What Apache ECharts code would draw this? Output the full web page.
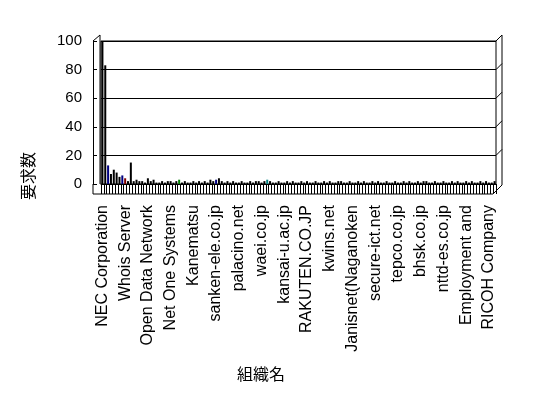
<!DOCTYPE html>
<html>
<head>
<meta charset="utf-8">
<script src="https://cdn.jsdelivr.net/npm/echarts@6/dist/echarts.min.js"></script>
<style>
  html, body { margin: 0; padding: 0; background: #fff; }
  #chart { width: 548px; height: 398px; }
</style>
</head>
<body>
<div id="chart"></div>
<script>
// labels that are printed on the axis (every 8th organisation)
var shownLabels = ['NEC Corporation', 'Whois Server', 'Open Data Network', 'Net One Systems',
  'Kanematsu', 'sanken-ele.co.jp', 'palacino.net', 'waei.co.jp', 'kansai-u.ac.jp',
  'RAKUTEN.CO.JP', 'kwins.net', 'Janisnet(Naganoken', 'secure-ict.net', 'tepco.co.jp',
  'bhsk.co.jp', 'nttd-es.co.jp', 'Employment and', 'RICOH Company'];
var labelStep = 8;

// request counts per organisation
var requestCounts = [
  100, 83, 13, 7, 10, 8, 5, 6, 4, 2, 15, 2, 3,
  2, 2, 1, 4, 2, 3, 1, 1, 2, 1, 2, 2, 1, 2, 3,
  1, 2, 1, 1, 2, 1, 2, 1, 2, 1,
  3, 2, 3, 4, 2, 1, 2,
  1, 2, 1, 1, 2, 1, 1, 2, 1, 2, 2, 1, 2,
  3, 2, 1,
  1, 2, 1, 1, 2, 1, 2, 1, 1, 2, 1, 2, 1, 1, 2,
  1, 1, 2, 1, 2, 1, 1, 2, 2, 1, 1, 2, 1, 1, 2,
  1, 2, 1, 1, 2, 1, 2, 1, 1, 2, 1, 1, 2, 1, 1,
  2, 1, 2, 1, 1, 2, 1, 2, 2, 1, 1, 2, 1, 1, 2,
  1, 1, 2, 1, 2, 1, 1, 2, 1, 2, 1, 1, 2, 1, 2, 1, 1, 2
];

var yTicks = [0, 20, 40, 60, 80, 100];

var categories = requestCounts.map(function (v, i) {
  return i % labelStep === 0 ? (shownLabels[i / labelStep] || '') : '';
});

// a few bars drawn in other colours in the original
var accentBars = { 2: '#000080', 7: '#000080', 8: '#800000', 27: '#008000', 40: '#000080', 58: '#008080' };

var font = "'Liberation Sans', 'Noto Sans CJK JP', sans-serif";
var gridLeft = 101, gridRight = 52, gridTop = 41, gridBottom = 214;

var myChart = echarts.init(document.getElementById('chart'));
var option = {
  animation: false,
  backgroundColor: '#fff',
  grid: {
    left: gridLeft, right: gridRight, top: gridTop, bottom: gridBottom,
    show: true, borderColor: '#000', borderWidth: 1, backgroundColor: 'transparent'
  },
  xAxis: {
    type: 'category',
    data: categories,
    axisLine: { lineStyle: { color: '#000', width: 1 } },
    axisTick: { show: true, interval: 0, length: 10, lineStyle: { color: '#000' } },
    axisLabel: {
      interval: labelStep - 1, rotate: 90, margin: 21,
      color: '#000', fontSize: 16, fontFamily: font
    },
    splitLine: { show: false }
  },
  yAxis: {
    type: 'value',
    min: yTicks[0], max: yTicks[yTicks.length - 1], interval: 20,
    offset: 8,
    axisLine: { show: true, lineStyle: { color: '#000' } },
    axisTick: { show: true, inside: true, length: 4, lineStyle: { color: '#000' } },
    axisLabel: { margin: 11, color: '#000', fontSize: 15, fontFamily: font },
    splitLine: { show: true, lineStyle: { color: '#000', width: 1 } }
  },
  series: [{
    type: 'bar',
    data: requestCounts,
    barWidth: 2,
    itemStyle: {
      color: function (p) { return accentBars[p.dataIndex] || '#000'; }
    }
  }]
};
myChart.setOption(option);

// 3D-style frame around the plot, taken from the axes
var yOf = function (v) { return myChart.convertToPixel({ yAxisIndex: 0 }, v); };
var wallL = gridLeft, wallR = 548 - gridRight;
var frontL = wallL - 8, frontB = yOf(0) + 10, frontR = wallR - 3, sideR = wallR + 6;
var lineStyle = { stroke: '#000', lineWidth: 1, fill: null };
var graphics = [
  { type: 'polyline', shape: { points: [[frontL, yOf(0)], [frontL, frontB], [frontR, frontB], [sideR, frontB - 9]] }, style: lineStyle },
  { type: 'polyline', shape: { points: [[frontL, yOf(100)], [wallL - 1, yOf(100) - 6], [wallL - 1, yOf(0)]] }, style: lineStyle },
  { type: 'polyline', shape: { points: [[sideR, frontB - 9], [sideR, yOf(100) - 6], [wallR, yOf(100)]] }, style: lineStyle }
];
yTicks.slice(1, -1).forEach(function (t) {
  graphics.push({ type: 'line', shape: { x1: wallR, y1: yOf(t), x2: sideR, y2: yOf(t) - 6 }, style: lineStyle });
});
graphics.push({
  type: 'text', x: 30, y: 176, rotation: Math.PI / 2,
  style: { text: '要求数', font: '16px ' + font, fill: '#000', textAlign: 'center', textVerticalAlign: 'middle' }
});
graphics.push({
  type: 'text', x: 261, y: 376,
  style: { text: '組織名', font: '16px ' + font, fill: '#000', textAlign: 'center', textVerticalAlign: 'middle' }
});
myChart.setOption({ graphic: graphics });
</script>
</body>
</html>
